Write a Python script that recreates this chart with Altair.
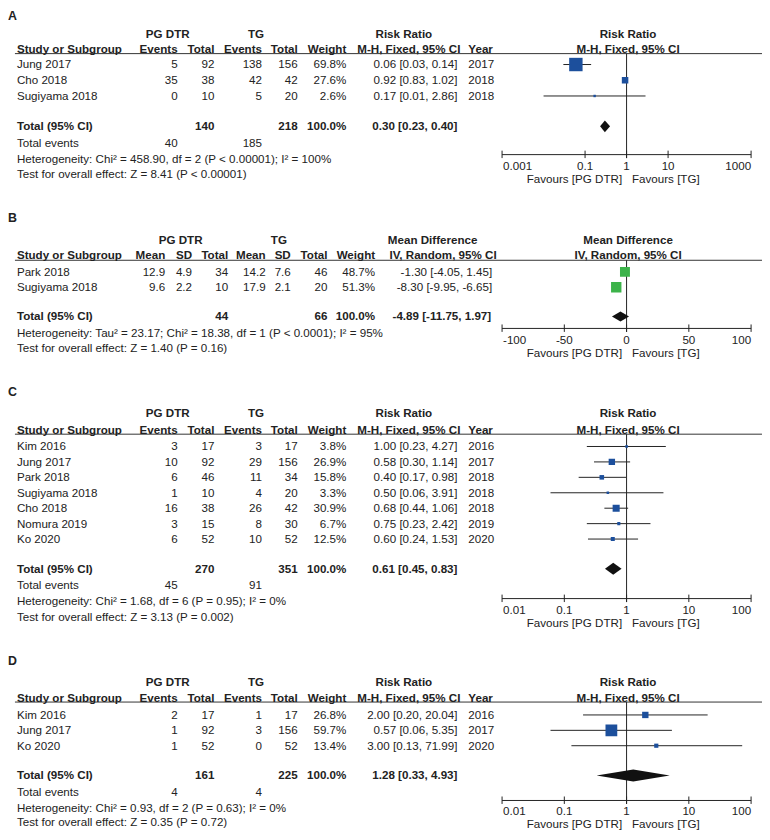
import altair as alt
import pandas as pd

# ---------------- Panel A : Risk Ratio ----------------
A_study = ["Jung 2017", "Cho 2018", "Sugiyama 2018"]
A_ev_pg = [5, 35, 0]
A_n_pg = [92, 38, 10]
A_ev_tg = [138, 42, 5]
A_n_tg = [156, 42, 20]
A_weight = [69.8, 27.6, 2.6]
A_rr = [0.06, 0.92, 0.17]
A_lo = [0.03, 0.83, 0.01]
A_hi = [0.14, 1.02, 2.86]
A_year = [2017, 2018, 2018]
A_total_n = [140, 218]
A_total_est = [0.30, 0.23, 0.40]
A_total_events = [40, 185]
A_het = "Heterogeneity: Chi² = 458.90, df = 2 (P < 0.00001); I² = 100%"
A_test = "Test for overall effect: Z = 8.41 (P < 0.00001)"
A_ticks = [0.001, 0.1, 1, 10, 1000]
A_tick_labels = ["0.001", "0.1", "1", "10", "1000"]

# ---------------- Panel B : Mean Difference ----------------
B_study = ["Park 2018", "Sugiyama 2018"]
B_mean_pg = [12.9, 9.6]
B_sd_pg = [4.9, 2.2]
B_n_pg = [34, 10]
B_mean_tg = [14.2, 17.9]
B_sd_tg = [7.6, 2.1]
B_n_tg = [46, 20]
B_weight = [48.7, 51.3]
B_md = [-1.30, -8.30]
B_lo = [-4.05, -9.95]
B_hi = [1.45, -6.65]
B_total_n = [44, 66]
B_total_est = [-4.89, -11.75, 1.97]
B_het = "Heterogeneity: Tau² = 23.17; Chi² = 18.38, df = 1 (P < 0.0001); I² = 95%"
B_test = "Test for overall effect: Z = 1.40 (P = 0.16)"
B_ticks = [-100, -50, 0, 50, 100]
B_tick_labels = ["-100", "-50", "0", "50", "100"]

# ---------------- Panel C : Risk Ratio ----------------
C_study = ["Kim 2016", "Jung 2017", "Park 2018", "Sugiyama 2018", "Cho 2018", "Nomura 2019", "Ko 2020"]
C_ev_pg = [3, 10, 6, 1, 16, 3, 6]
C_n_pg = [17, 92, 46, 10, 38, 15, 52]
C_ev_tg = [3, 29, 11, 4, 26, 8, 10]
C_n_tg = [17, 156, 34, 20, 42, 30, 52]
C_weight = [3.8, 26.9, 15.8, 3.3, 30.9, 6.7, 12.5]
C_rr = [1.00, 0.58, 0.40, 0.50, 0.68, 0.75, 0.60]
C_lo = [0.23, 0.30, 0.17, 0.06, 0.44, 0.23, 0.24]
C_hi = [4.27, 1.14, 0.98, 3.91, 1.06, 2.42, 1.53]
C_year = [2016, 2017, 2018, 2018, 2018, 2019, 2020]
C_total_n = [270, 351]
C_total_est = [0.61, 0.45, 0.83]
C_total_events = [45, 91]
C_het = "Heterogeneity: Chi² = 1.68, df = 6 (P = 0.95); I² = 0%"
C_test = "Test for overall effect: Z = 3.13 (P = 0.002)"
C_ticks = [0.01, 0.1, 1, 10, 100]
C_tick_labels = ["0.01", "0.1", "1", "10", "100"]

# ---------------- Panel D : Risk Ratio ----------------
D_study = ["Kim 2016", "Jung 2017", "Ko 2020"]
D_ev_pg = [2, 1, 1]
D_n_pg = [17, 92, 52]
D_ev_tg = [1, 3, 0]
D_n_tg = [17, 156, 52]
D_weight = [26.8, 59.7, 13.4]
D_rr = [2.00, 0.57, 3.00]
D_lo = [0.20, 0.06, 0.13]
D_hi = [20.04, 5.35, 71.99]
D_year = [2016, 2017, 2020]
D_total_n = [161, 225]
D_total_est = [1.28, 0.33, 4.93]
D_total_events = [4, 4]
D_het = "Heterogeneity: Chi² = 0.93, df = 2 (P = 0.63); I² = 0%"
D_test = "Test for overall effect: Z = 0.35 (P = 0.72)"
D_ticks = [0.01, 0.1, 1, 10, 100]
D_tick_labels = ["0.01", "0.1", "1", "10", "100"]

# ---------------- layout / style ----------------
OX, OY = 8, 8          # page margin -> chart coordinates
FONT = "Liberation Sans"
FS = 11.7
TXT = "#222222"
BLUE = "#1c4f9c"
GREEN = "#3cb34a"
FOREST_L, FOREST_R, NULL_X = 506, 757, 632

cells = []


def T(text, x, y, align="left", bold=False, size=FS):
    cells.append({"text": str(text), "x": x - OX, "y": y - OY,
                  "align": align, "bold": bool(bold), "size": size})


def text_layers():
    df = pd.DataFrame(cells)
    out = []
    for (align, bold, size), g in df.groupby(["align", "bold", "size"]):
        out.append(
            alt.Chart(g[["text", "x", "y"]].reset_index(drop=True))
            .mark_text(align=align, baseline="middle", font=FONT, fontSize=float(size),
                       fontWeight="bold" if bold else "normal", color=TXT)
            .encode(x=alt.X("x:Q", scale=None), y=alt.Y("y:Q", scale=None), text="text:N")
        )
    return out


hlines = []


def H(x1, x2, y):
    hlines.append({"x": x1 - OX, "x2": x2 - OX, "y": y - OY})


layers = []


def forest(scale, est, lo, hi, weight, ys, color, tot, tot_y, null_val, y_line, y_axis,
           ticks, tick_labels, half_h=6, fav_y=None, lab_dy=11.5):
    sc = alt.Scale(nice=False, range=[FOREST_L - OX, FOREST_R - OX], **scale)
    df = pd.DataFrame({"est": est, "lo": lo, "hi": hi, "w": weight,
                       "y": [v - OY for v in ys]})
    df["sz"] = (2 + 0.165 * df["w"]) ** 2
    ci = alt.Chart(df).mark_rule(color="#222222", strokeWidth=1).encode(
        x=alt.X("lo:Q", scale=sc, axis=None), x2="hi:Q", y=alt.Y("y:Q", scale=None))
    sq = alt.Chart(df).mark_square(color=color, opacity=1, strokeWidth=0).encode(
        x=alt.X("est:Q", scale=sc, axis=None), y=alt.Y("y:Q", scale=None),
        size=alt.Size("sz:Q", scale=None))
    c = tot_y - OY
    dia = pd.DataFrame({"x": [tot[1], tot[0], tot[2]],
                        "ya": [c, c - half_h, c], "yb": [c, c + half_h, c]})
    dm = alt.Chart(dia).mark_area(color="#111111", orient="vertical", opacity=1).encode(
        x=alt.X("x:Q", scale=sc, axis=None), y=alt.Y("ya:Q", scale=None), y2="yb:Q")
    nl = alt.Chart(pd.DataFrame({"x": [null_val], "y": [y_line - OY], "y2": [y_axis + 3.5 - OY]})
                   ).mark_rule(color="#222222", strokeWidth=1).encode(
        x=alt.X("x:Q", scale=sc, axis=None), y=alt.Y("y:Q", scale=None), y2="y2:Q")
    dom = alt.Chart(pd.DataFrame({"a": [ticks[0]], "b": [ticks[-1]], "y": [y_axis - OY]})
                    ).mark_rule(color="#222222", strokeWidth=1).encode(
        x=alt.X("a:Q", scale=sc, axis=None), x2="b:Q", y=alt.Y("y:Q", scale=None))
    n = len(ticks)
    tk = pd.DataFrame({"t": ticks, "lab": tick_labels,
                       "y": [y_axis - 4 - OY] * n, "y2": [y_axis + 3.5 - OY] * n,
                       "yl": [y_axis + lab_dy - OY] * n,
                       "pos": ["left"] + ["center"] * (n - 2) + ["right"]})
    tr = alt.Chart(tk).mark_rule(color="#222222", strokeWidth=1).encode(
        x=alt.X("t:Q", scale=sc, axis=None), y=alt.Y("y:Q", scale=None), y2="y2:Q")
    tls = []
    for pos in ["left", "center", "right"]:
        sub = tk[tk["pos"] == pos].reset_index(drop=True)
        tls.append(alt.Chart(sub).mark_text(align=pos, baseline="middle", font=FONT,
                                            fontSize=FS, color=TXT,
                                            dx=1 if pos == "left" else 0).encode(
            x=alt.X("t:Q", scale=sc, axis=None), y=alt.Y("yl:Q", scale=None), text="lab:N"))
    layers.extend([ci, nl, dom, tr, *tls, sq, dm])
    fy = fav_y if fav_y is not None else y_axis + 25
    T("Favours [PG DTR]", NULL_X - 5, fy, "right")
    T("Favours [TG]", NULL_X + 5, fy, "left")


def rr_panel(letter, L, study, ev_pg, n_pg, ev_tg, n_tg, weight, rr, lo, hi, year,
             total_n, total_est, total_events, het, test, ticks, tick_labels, log_domain):
    T(letter, OX, L["label"], "left", True, 12.5)
    # group headers
    T("PG DTR", 169, L["grp"], "center", True)
    T("TG", 258, L["grp"], "center", True)
    T("Risk Ratio", 407, L["grp"], "center", True)
    T("Risk Ratio", 633, L["grp"], "center", True)
    # column headers
    yc = L["col"]
    T("Study or Subgroup", 17, yc, "left", True)
    T("Events", 179, yc, "right", True)
    T("Total", 216, yc, "right", True)
    T("Events", 264, yc, "right", True)
    T("Total", 300, yc, "right", True)
    T("Weight", 349, yc, "right", True)
    T("M-H, Fixed, 95% CI", 412, yc, "center", True)
    T("Year", 472, yc, "left", True)
    T("M-H, Fixed, 95% CI", 633, yc, "center", True)
    H(15, 768, L["line"])
    ys = []
    for i in range(len(study)):
        y = L["row0"] + i * L["step"]
        ys.append(y)
        T(study[i], 17, y)
        T(ev_pg[i], 179, y, "right")
        T(n_pg[i], 216, y, "right")
        T(ev_tg[i], 264, y, "right")
        T(n_tg[i], 300, y, "right")
        T(f"{weight[i]:.1f}%", 349, y, "right")
        T(f"{rr[i]:.2f} [{lo[i]:.2f}, {hi[i]:.2f}]", 461, y, "right")
        T(year[i], 472, y, "left")
    yt = L["total"]
    T("Total (95% CI)", 17, yt, "left", True)
    T(total_n[0], 216, yt, "right", True)
    T(total_n[1], 300, yt, "right", True)
    T("100.0%", 349, yt, "right", True)
    T(f"{total_est[0]:.2f} [{total_est[1]:.2f}, {total_est[2]:.2f}]", 461, yt, "right", True)
    T("Total events", 17, L["events"])
    T(total_events[0], 179, L["events"], "right")
    T(total_events[1], 264, L["events"], "right")
    T(het, 17, L["het"])
    T(test, 17, L["test"])
    forest({"type": "log", "domain": log_domain}, rr, lo, hi, weight, ys, BLUE,
           total_est, yt, 1, L["line"], L["axis"], ticks, tick_labels,
           fav_y=L.get("fav"), lab_dy=L.get("lab_dy", 11.5))


LA = dict(label=12.5, grp=30.7, col=46, line=50.7, row0=61.7, step=15.85, total=124,
          events=140.7, het=156.7, test=172.3, axis=152.5)
LB = dict(label=216, grp=238.3, col=253.3, line=259, row0=270.7, step=15.5, total=315.7,
          het=332.2, test=347.7, axis=327.7)
LC = dict(label=392, grp=413.3, col=430, line=434.3, row0=446.7, step=15.55, total=570,
          events=586.7, het=602.3, test=618.3, axis=600)
LD = dict(label=662.7, grp=684.3, col=700, line=704.3, row0=717.3, step=15.5, total=778.3,
          events=795, het=810.7, test=825.5, axis=803.5, lab_dy=11, fav=827)

rr_panel("A", LA, A_study, A_ev_pg, A_n_pg, A_ev_tg, A_n_tg, A_weight, A_rr, A_lo, A_hi,
         A_year, A_total_n, A_total_est, A_total_events, A_het, A_test, A_ticks,
         A_tick_labels, [0.001, 1000])
rr_panel("C", LC, C_study, C_ev_pg, C_n_pg, C_ev_tg, C_n_tg, C_weight, C_rr, C_lo, C_hi,
         C_year, C_total_n, C_total_est, C_total_events, C_het, C_test, C_ticks,
         C_tick_labels, [0.01, 100])
rr_panel("D", LD, D_study, D_ev_pg, D_n_pg, D_ev_tg, D_n_tg, D_weight, D_rr, D_lo, D_hi,
         D_year, D_total_n, D_total_est, D_total_events, D_het, D_test, D_ticks,
         D_tick_labels, [0.01, 100])

# ---- Panel B (mean difference) ----
L = LB
T("B", OX, L["label"], "left", True, 12.5)
T("PG DTR", 182, L["grp"], "center", True)
T("TG", 281, L["grp"], "center", True)
T("Mean Difference", 436, L["grp"], "center", True)
T("Mean Difference", 633, L["grp"], "center", True)
yc = L["col"]
T("Study or Subgroup", 17, yc, "left", True)
T("Mean", 166.5, yc, "right", True)
T("SD", 193.5, yc, "right", True)
T("Total", 230, yc, "right", True)
T("Mean", 267.7, yc, "right", True)
T("SD", 293, yc, "right", True)
T("Total", 330, yc, "right", True)
T("Weight", 378, yc, "right", True)
T("IV, Random, 95% CI", 446.5, yc, "center", True)
T("IV, Random, 95% CI", 633, yc, "center", True)
H(15, 768, L["line"])
B_ys = []
for i in range(len(B_study)):
    y = L["row0"] + i * L["step"]
    B_ys.append(y)
    T(B_study[i], 17, y)
    T(f"{B_mean_pg[i]:.1f}", 166.5, y, "right")
    T(f"{B_sd_pg[i]:.1f}", 193.5, y, "right")
    T(B_n_pg[i], 230, y, "right")
    T(f"{B_mean_tg[i]:.1f}", 267.7, y, "right")
    T(f"{B_sd_tg[i]:.1f}", 293, y, "right")
    T(B_n_tg[i], 330, y, "right")
    T(f"{B_weight[i]:.1f}%", 378, y, "right")
    T(f"{B_md[i]:.2f} [{B_lo[i]:.2f}, {B_hi[i]:.2f}]", 496, y, "right")
yt = L["total"]
T("Total (95% CI)", 17, yt, "left", True)
T(B_total_n[0], 230, yt, "right", True)
T(B_total_n[1], 330, yt, "right", True)
T("100.0%", 378, yt, "right", True)
T(f"{B_total_est[0]:.2f} [{B_total_est[1]:.2f}, {B_total_est[2]:.2f}]", 495, yt, "right", True)
T(B_het, 17, L["het"])
T(B_test, 17, L["test"])
forest({"type": "linear", "domain": [-100, 100], "zero": False}, B_md, B_lo, B_hi, B_weight,
       B_ys, GREEN, B_total_est, yt, 0, L["line"], L["axis"], B_ticks, B_tick_labels,
       half_h=5)

# header rules (layout)
hl = alt.Chart(pd.DataFrame(hlines)).mark_rule(color="#333333", strokeWidth=1).encode(
    x=alt.X("x:Q", scale=None), x2="x2:Q", y=alt.Y("y:Q", scale=None))

chart = (
    alt.layer(hl, *layers, *text_layers())
    .resolve_scale(x="independent")
    .properties(width=760, height=824, padding=0,
                autosize=alt.AutoSizeParams(type="none"))
    .configure_view(stroke=None)
)

chart.save("out.html", embed_options={"renderer": "svg", "actions": False})
